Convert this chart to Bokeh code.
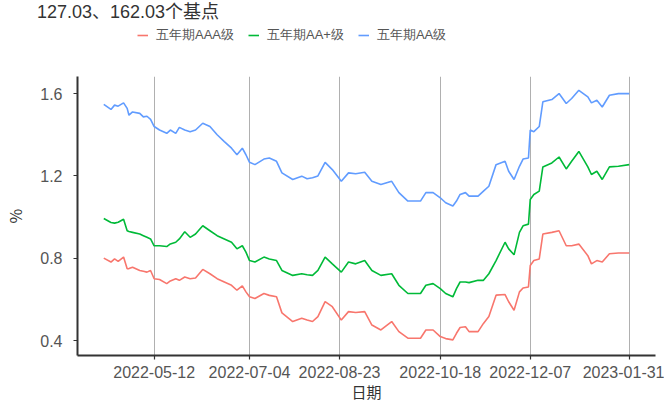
import pandas as pd
from bokeh.plotting import figure
from bokeh.layouts import column
from bokeh.models import (Range1d, FixedTicker, DatetimeTickFormatter, Legend,
                          LegendItem, ColumnDataSource, Div)
from bokeh.embed import file_html
from bokeh.resources import INLINE

title_text = "127.03、162.03个基点"
series_names = ["五年期AAA级", "五年期AA+级", "五年期AA级"]
series_colors = ["#F8766D", "#00BA38", "#619CFF"]
x_tick_labels = ["2022-05-12", "2022-07-04", "2022-08-23", "2022-10-18", "2022-12-07", "2023-01-31"]
y_ticks = [0.4, 0.8, 1.2, 1.6]
x_label = "日期"
y_label = "%"

dates = [
    "2022-04-14", "2022-04-18", "2022-04-20", "2022-04-22", "2022-04-25", "2022-04-27",
    "2022-04-28", "2022-04-30", "2022-05-04", "2022-05-06", "2022-05-08", "2022-05-10",
    "2022-05-12", "2022-05-15", "2022-05-19", "2022-05-21", "2022-05-24", "2022-05-26",
    "2022-05-29", "2022-06-01", "2022-06-04", "2022-06-08", "2022-06-12", "2022-06-16",
    "2022-06-20", "2022-06-24", "2022-06-27", "2022-06-30", "2022-07-02", "2022-07-04",
    "2022-07-07", "2022-07-12", "2022-07-15", "2022-07-19", "2022-07-22", "2022-07-28",
    "2022-08-02", "2022-08-05", "2022-08-08", "2022-08-11", "2022-08-15", "2022-08-19",
    "2022-08-24", "2022-08-28", "2022-09-01", "2022-09-06", "2022-09-10", "2022-09-15",
    "2022-09-21", "2022-09-25", "2022-09-30", "2022-10-07", "2022-10-10", "2022-10-14",
    "2022-10-18", "2022-10-21", "2022-10-25", "2022-10-27", "2022-10-29", "2022-11-01",
    "2022-11-03", "2022-11-08", "2022-11-11", "2022-11-14", "2022-11-18", "2022-11-23",
    "2022-11-25", "2022-11-28", "2022-12-01", "2022-12-03", "2022-12-06", "2022-12-07",
    "2022-12-09", "2022-12-12", "2022-12-14", "2022-12-19", "2022-12-23", "2022-12-27",
    "2022-12-30", "2023-01-03", "2023-01-08", "2023-01-10", "2023-01-13", "2023-01-16",
    "2023-01-20", "2023-01-25", "2023-01-31",
]

aaa = [
    0.801, 0.782, 0.797, 0.785, 0.806, 0.749,
    0.750, 0.757, 0.741, 0.737, 0.733, 0.741,
    0.701, 0.697, 0.677, 0.690, 0.701, 0.693,
    0.709, 0.701, 0.704, 0.746, 0.725, 0.701,
    0.685, 0.669, 0.645, 0.666, 0.637, 0.613,
    0.605, 0.629, 0.620, 0.613, 0.535, 0.493,
    0.509, 0.500, 0.493, 0.517, 0.590, 0.565,
    0.500, 0.541, 0.537, 0.541, 0.476, 0.452,
    0.493, 0.444, 0.412, 0.412, 0.452, 0.452,
    0.420, 0.410, 0.404, 0.436, 0.464, 0.468,
    0.444, 0.444, 0.484, 0.517, 0.621, 0.624,
    0.589, 0.548, 0.637, 0.656, 0.661, 0.765,
    0.789, 0.797, 0.918, 0.926, 0.934, 0.861,
    0.861, 0.869, 0.813, 0.773, 0.789, 0.782,
    0.822, 0.826, 0.826,
]

aa_plus = [
    0.993, 0.974, 0.971, 0.975, 0.990, 0.934,
    0.930, 0.926, 0.918, 0.910, 0.902, 0.894,
    0.861, 0.861, 0.857, 0.870, 0.878, 0.894,
    0.929, 0.902, 0.918, 0.958, 0.934, 0.910,
    0.894, 0.878, 0.846, 0.861, 0.830, 0.789,
    0.782, 0.806, 0.797, 0.789, 0.741, 0.717,
    0.725, 0.720, 0.717, 0.741, 0.806, 0.773,
    0.733, 0.782, 0.773, 0.789, 0.741, 0.717,
    0.725, 0.669, 0.629, 0.629, 0.669, 0.677,
    0.653, 0.629, 0.613, 0.653, 0.685, 0.685,
    0.682, 0.693, 0.693, 0.725, 0.789, 0.878,
    0.846, 0.817, 0.926, 0.958, 0.966, 1.086,
    1.110, 1.126, 1.244, 1.263, 1.292, 1.234,
    1.271, 1.319, 1.244, 1.207, 1.223, 1.183,
    1.244, 1.247, 1.255,
]

aa = [
    1.548, 1.523, 1.544, 1.539, 1.555, 1.528,
    1.495, 1.511, 1.504, 1.487, 1.490, 1.475,
    1.440, 1.423, 1.407, 1.423, 1.407, 1.436,
    1.423, 1.415, 1.423, 1.456, 1.440, 1.400,
    1.367, 1.335, 1.303, 1.335, 1.303, 1.266,
    1.255, 1.282, 1.287, 1.271, 1.215, 1.183,
    1.199, 1.186, 1.191, 1.200, 1.266, 1.231,
    1.174, 1.215, 1.211, 1.218, 1.174, 1.158,
    1.174, 1.119, 1.078, 1.078, 1.119, 1.119,
    1.094, 1.070, 1.054, 1.078, 1.110, 1.119,
    1.102, 1.102, 1.126, 1.150, 1.255, 1.271,
    1.223, 1.183, 1.247, 1.282, 1.287, 1.423,
    1.415, 1.440, 1.560, 1.571, 1.600, 1.552,
    1.576, 1.616, 1.584, 1.555, 1.568, 1.535,
    1.592, 1.600, 1.600,
]

x = pd.to_datetime(dates)
series_values = [aaa, aa_plus, aa]
W = 664

# ---------- caption line ----------
caption = Div(text=title_text, width=W - 37, height=24, margin=(0, 0, 0, 37),
              styles={"font-family": "Liberation Sans, Noto Sans CJK SC", "font-size": "18px",
                      "line-height": "24px", "color": "#333333", "white-space": "nowrap"})

# ---------- legend strip ----------
head = figure(width=W, height=52, output_backend="svg", toolbar_location=None,
              x_range=Range1d(0, 1), y_range=Range1d(0, 1),
              x_axis_location=None, y_axis_location=None,
              min_border_left=0, min_border_right=0,
              min_border_top=0, min_border_bottom=0)
head.outline_line_color = None
head.xgrid.grid_line_color = None
head.ygrid.grid_line_color = None

key_renderers = []
for vals, col in zip(series_values, series_colors):
    # same series, outside this strip's view: only its legend key shows
    key_renderers.append(head.line(x=x, y=vals, line_color=col, line_width=1.6))

legend = Legend(
    items=[LegendItem(label=n, renderers=[r]) for n, r in zip(series_names, key_renderers)],
    orientation="horizontal", location=(60, 32),
    label_text_font="Liberation Sans", label_text_font_size="13px",
    label_text_color="#555555", glyph_width=11, glyph_height=12,
    label_standoff=8, spacing=14, padding=0, margin=0,
    border_line_color=None, background_fill_alpha=0)
head.add_layout(legend, "center")

# ---------- main chart ----------
x_span = x.max() - x.min()
x_start = x.min() - x_span * 0.05
x_end = x.max() + x_span * 0.05

p = figure(width=W, height=328, x_axis_type="datetime",
           output_backend="svg", toolbar_location=None,
           x_range=Range1d(x_start, x_end),
           y_range=Range1d(0.328, 1.683),
           min_border_left=0, min_border_right=9,
           min_border_top=0, min_border_bottom=46)
p.outline_line_color = None
p.background_fill_color = "white"
p.border_fill_color = "white"

for vals, col in zip(series_values, series_colors):
    src = ColumnDataSource(dict(x=x, y=vals))
    p.line("x", "y", source=src, line_color=col, line_width=1.6)

tick_dates = pd.to_datetime(x_tick_labels)
p.xaxis.ticker = FixedTicker(ticks=[t.value / 1e6 for t in tick_dates])
fmt = "%Y-%m-%d"
p.xaxis.formatter = DatetimeTickFormatter(
    milliseconds=fmt, seconds=fmt, minsec=fmt, minutes=fmt, hourmin=fmt,
    hours=fmt, days=fmt, months=fmt, years=fmt)
p.yaxis.ticker = FixedTicker(ticks=y_ticks)

for ax in (p.xaxis[0], p.yaxis[0]):
    ax.axis_line_color = "#333333"
    ax.axis_line_width = 2
    ax.major_tick_line_color = "#333333"
    ax.major_tick_line_width = 1.2
    ax.major_tick_out = 4
    ax.major_tick_in = 0
    ax.minor_tick_line_color = None
    ax.major_label_text_color = "#555555"
    ax.major_label_text_font = "Liberation Sans"
    ax.major_label_text_font_size = "16px"
    ax.axis_label_text_color = "#333333"
    ax.axis_label_text_font = "Noto Sans CJK SC"
    ax.axis_label_text_font_style = "normal"

p.xaxis.axis_label = x_label
p.xaxis.axis_label_text_font_size = "15px"
p.xaxis.major_label_standoff = 6
p.xaxis.axis_label_standoff = 0
p.yaxis.axis_label = y_label
p.yaxis.axis_label_text_font_size = "16px"
p.yaxis.major_label_standoff = 11
p.yaxis.axis_label_standoff = 10

p.xgrid.grid_line_color = "#b0b0b0"
p.xgrid.grid_line_width = 1
p.ygrid.grid_line_color = None

layout = column(caption, head, p, spacing=0)
open("out.html", "w").write(file_html(layout, INLINE))
